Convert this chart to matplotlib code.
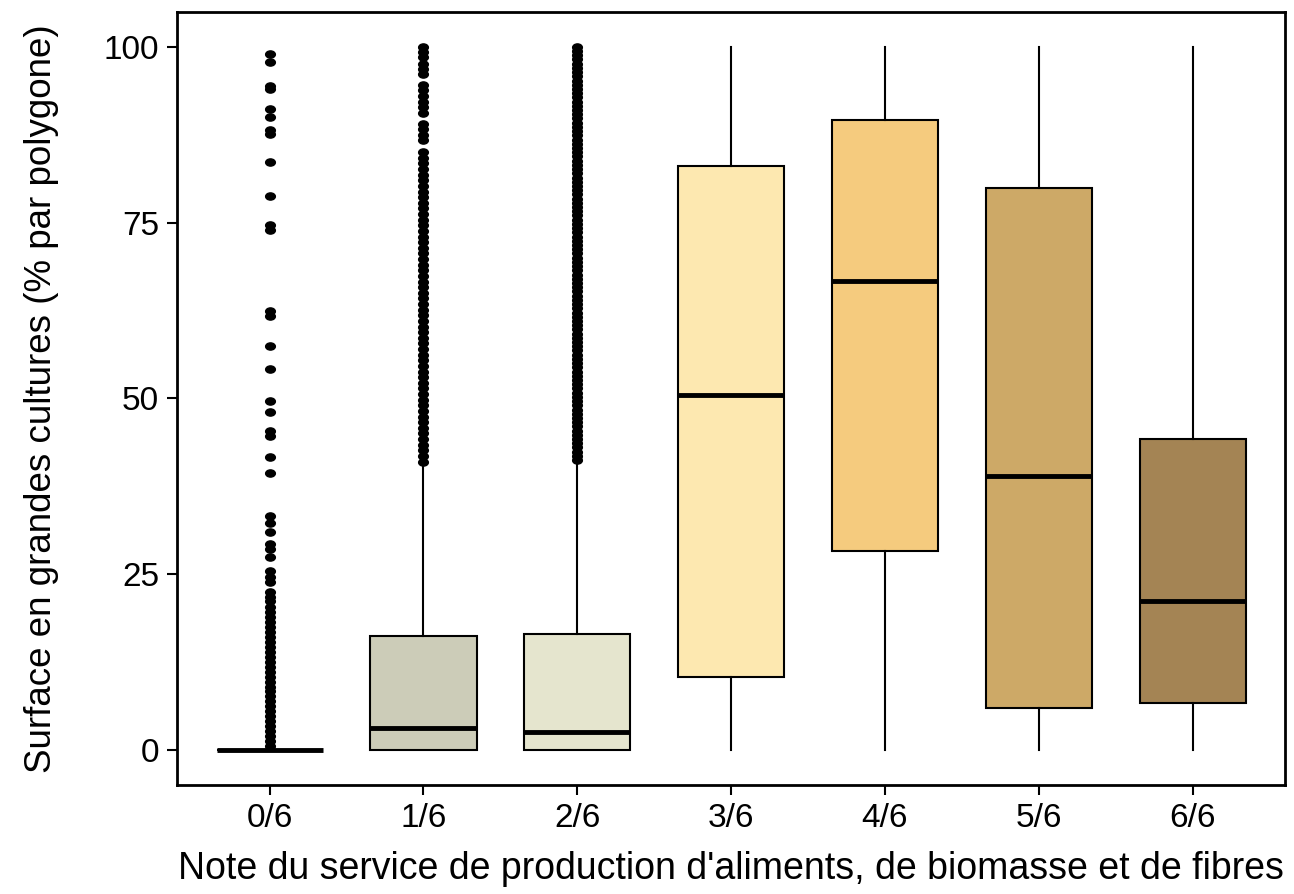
import matplotlib
matplotlib.use("Agg")
import matplotlib.pyplot as plt
from matplotlib.path import Path
from matplotlib.transforms import Affine2D

plt.rcParams['font.family'] = ['Liberation Sans', 'DejaVu Sans']

categories = ["0/6", "1/6", "2/6", "3/6", "4/6", "5/6", "6/6"]
q1 = [0.0, 0.0, 0.0, 10.4, 28.3, 6.0, 6.7]
median = [0.0, 3.1, 2.5, 50.5, 66.7, 39.0, 21.1]
q3 = [0.0, 16.2, 16.5, 83.1, 89.6, 79.9, 44.2]
whislo = [0.0, 0.0, 0.0, 0.0, 0.0, 0.0, 0.0]
whishi = [0.0, 40.7, 41.0, 100.0, 100.0, 100.0, 100.0]
colors = ["#FFFFFF", "#CCCCB8", "#E5E5CE", "#FDE8B0", "#F5CB7E", "#CDA967", "#A48454"]

fliers0 = [99.0, 97.9, 94.4, 94.0, 91.2, 90.0, 88.2, 87.6, 83.6, 78.8, 74.7, 74.0,
           62.4, 61.7, 57.5, 54.2, 49.6, 48.1, 45.4, 44.6, 41.7, 39.4, 33.3, 32.3,
           31.0, 29.3, 28.5, 27.4, 25.5, 24.6, 23.8, 22.5, 21.8, 21.1, 20.3, 19.6,
           18.9, 18.2, 17.5, 16.8, 16.0, 15.3, 14.6, 13.9, 13.2, 12.5, 11.8, 11.1,
           10.4, 9.7, 9.0, 8.3, 7.6, 6.9, 6.2, 5.5, 4.8, 4.1, 3.4, 2.7, 2.0, 1.3, 0.6]
fliers1 = [100.0, 99.3, 98.5, 97.6, 96.9, 96.1, 94.6, 93.8, 93.0, 92.2, 91.4, 90.6,
           89.0, 88.3, 87.5, 86.7, 85.0, 84.2, 83.4, 82.6, 81.8, 81.0, 80.2, 79.4,
           78.6, 77.8, 77.0, 76.2, 75.4, 74.6, 73.8, 73.0, 72.2, 71.4, 70.6, 69.8,
           69.0, 68.2, 67.4, 66.6, 65.8, 65.0, 64.2, 63.4, 62.6, 61.8, 61.0, 60.2,
           59.4, 58.6, 57.8, 57.0, 56.2, 55.4, 54.6, 53.8, 53.0, 52.2, 51.4, 50.6,
           49.8, 49.0, 48.2, 47.4, 46.6, 45.8, 45.0, 44.2, 43.4, 42.6, 41.8, 41.0]
fliers2 = [100.0, 99.4, 98.8, 98.2, 97.6, 97.0, 96.4, 95.8, 95.2, 94.6, 94.0, 93.4,
           92.8, 92.2, 91.6, 91.0, 90.4, 89.8, 89.2, 88.6, 88.0, 87.4, 86.8, 86.2,
           85.6, 85.0, 84.4, 83.8, 83.2, 82.6, 82.0, 81.4, 80.8, 80.2, 79.6, 79.0,
           78.4, 77.8, 77.2, 76.6, 76.0, 75.4, 74.8, 74.2, 73.6, 73.0, 72.4, 71.8,
           71.2, 70.6, 70.0, 69.4, 68.8, 68.2, 67.6, 67.0, 66.4, 65.8, 65.2, 64.6,
           64.0, 63.4, 62.8, 62.2, 61.6, 61.0, 60.4, 59.8, 59.2, 58.6, 58.0, 57.4,
           56.8, 56.2, 55.6, 55.0, 54.4, 53.8, 53.2, 52.6, 52.0, 51.4, 50.8, 50.2,
           49.6, 49.0, 48.4, 47.8, 47.2, 46.6, 46.0, 45.4, 44.8, 44.2, 43.6, 43.0,
           42.4, 41.8, 41.2]
fliers = [fliers0, fliers1, fliers2, [], [], [], []]

yticks = [0, 25, 50, 75, 100]
xlabel = "Note du service de production d'aliments, de biomasse et de fibres"
ylabel = "Surface en grandes cultures (% par polygone)"

stats = []
for i in range(len(categories)):
    stats.append(dict(label=categories[i], q1=q1[i], med=median[i], q3=q3[i],
                      whislo=whislo[i], whishi=whishi[i], fliers=fliers[i]))

ellipse = Path.unit_circle().transformed(Affine2D().scale(1.35, 1.0))

fig = plt.figure(figsize=(12.94, 8.94), dpi=100)
ax = fig.add_axes([0.137, 0.122, 0.856, 0.865])
bp = ax.bxp(stats, positions=range(1, len(categories) + 1), widths=0.69,
            patch_artist=True, showcaps=False,
            boxprops=dict(linewidth=1.5, edgecolor='black'),
            whiskerprops=dict(linewidth=1.5, color='black'),
            medianprops=dict(linewidth=3.5, color='black', solid_capstyle='butt'),
            flierprops=dict(marker=ellipse, markersize=7, markerfacecolor='black',
                            markeredgecolor='black', linestyle='none'))
for patch, c in zip(bp['boxes'], colors):
    patch.set_facecolor(c)

ax.set_xlim(0.4, 7.6)
ax.set_ylim(-5, 105)
ax.set_yticks(yticks)
ax.set_yticklabels([str(t) for t in yticks])
ax.tick_params(axis='both', labelsize=24, length=7, width=1.5, direction='out', colors='black')
ax.tick_params(axis='x', pad=6)
ax.tick_params(axis='y', pad=6)
for s in ax.spines.values():
    s.set_linewidth(2)
ax.set_xlabel(xlabel, fontsize=27, labelpad=12)
ax.set_ylabel(ylabel, fontsize=26.5, labelpad=32)

fig.savefig("out.png", dpi=100)
